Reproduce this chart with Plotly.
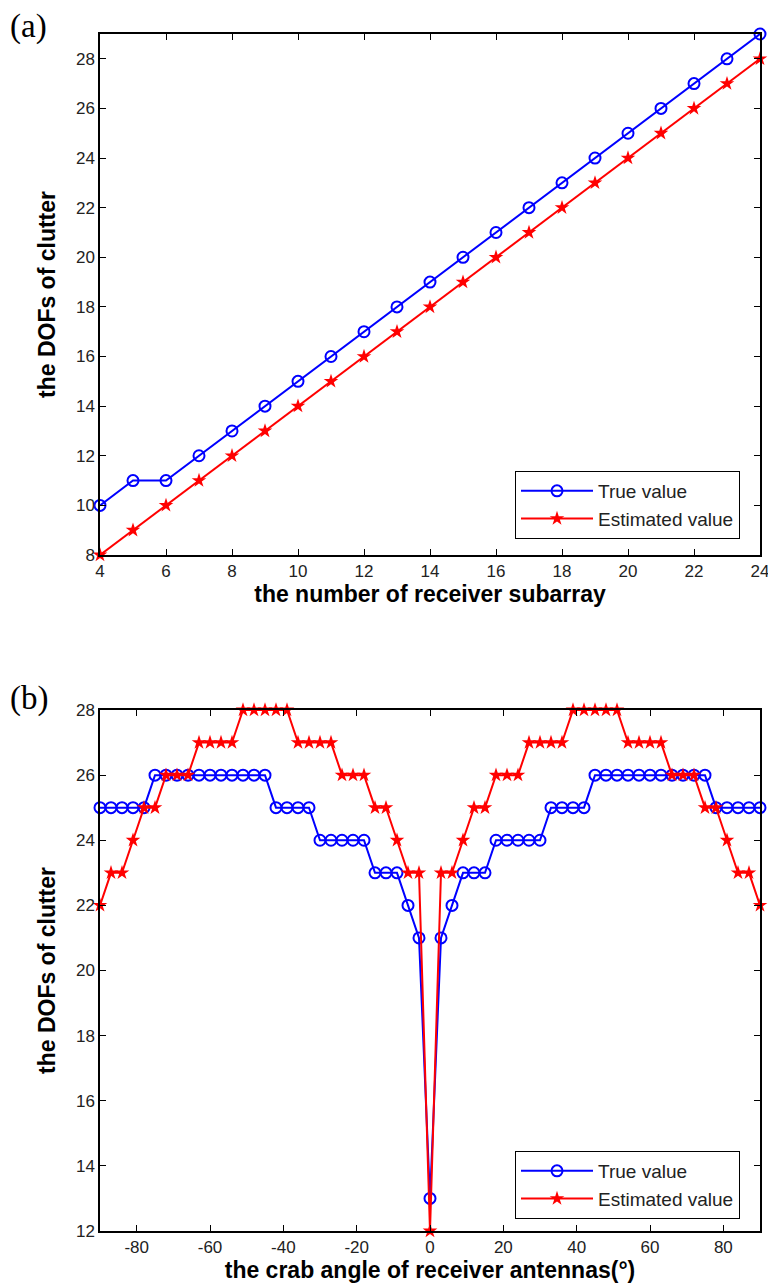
import plotly.graph_objects as go

# Panel (a)
subarray_n = list(range(4, 25))
true_a = [10, 11, 11, 12, 13, 14, 15, 16, 17, 18, 19, 20, 21, 22, 23, 24, 25, 26, 27, 28, 29]
est_a = [8, 9, 10, 11, 12, 13, 14, 15, 16, 17, 18, 19, 20, 21, 22, 23, 24, 25, 26, 27, 28]

# Panel (b)
crab_angle = list(range(-90, 91, 3))
true_b = [25, 25, 25, 25, 25,
          26, 26, 26, 26, 26, 26, 26, 26, 26, 26, 26,
          25, 25, 25, 25,
          24, 24, 24, 24, 24,
          23, 23, 23,
          22, 21, 13, 21, 22,
          23, 23, 23,
          24, 24, 24, 24, 24,
          25, 25, 25, 25,
          26, 26, 26, 26, 26, 26, 26, 26, 26, 26, 26,
          25, 25, 25, 25, 25]
est_b = [22, 23, 23, 24, 25, 25, 26, 26, 26, 27, 27, 27, 27,
         28, 28, 28, 28, 28, 27, 27, 27, 27, 26, 26, 26, 25, 25, 24, 23, 23,
         12,
         23, 23, 24, 25, 25, 26, 26, 26, 27, 27, 27, 27, 28, 28, 28, 28, 28,
         27, 27, 27, 27, 26, 26, 26, 25, 25, 24, 23, 23, 22]

xticks_b = [-80, -60, -40, -20, 0, 20, 40, 60, 80]
xticklabels_b = ["-80", "-60", "-40", "-20", "0", "20", "40", "60", "80"]

BLUE = "#0000ff"
RED = "#ff0000"
FONT = "Liberation Sans, Arial, sans-serif"

fig = go.Figure()

def add_pair(x, yt, ye, xa, ya, lg):
    fig.add_trace(go.Scatter(x=x, y=yt, mode="lines+markers", name="True value",
                             line=dict(color=BLUE, width=2),
                             marker=dict(symbol="circle-open", size=11, color=BLUE, line=dict(width=2)),
                             xaxis=xa, yaxis=ya, legend=lg, cliponaxis=False))
    fig.add_trace(go.Scatter(x=x, y=ye, mode="lines+markers", name="Estimated value",
                             line=dict(color=RED, width=2),
                             marker=dict(symbol="star", size=11, color=RED),
                             xaxis=xa, yaxis=ya, legend=lg, cliponaxis=False))

add_pair(subarray_n, true_a, est_a, "x", "y", "legend")
add_pair(crab_angle, true_b, est_b, "x2", "y2", "legend2")

W, H = 768, 1288
xd = [100 / W, 760 / W]
ya = [1 - 555 / H, 1 - 34 / H]
yb = [1 - 1231 / H, 1 - 710 / H]

axis_common = dict(showline=True, linecolor="black", linewidth=1.5, mirror="ticks",
                   ticks="inside", ticklen=6, tickcolor="black", showgrid=False, zeroline=False,
                   automargin=False, ticklabeloverflow="allow",
                   tickfont=dict(family=FONT, size=17, color="#222"))
title_font = dict(family=FONT, size=23, color="black", weight="bold")

fig.update_layout(
    width=W, height=H, margin=dict(l=0, r=0, t=0, b=0),
    paper_bgcolor="white", plot_bgcolor="white",
    xaxis=dict(domain=xd, anchor="y", range=[4, 24], dtick=2,
               title=dict(text="the number of receiver subarray", font=title_font, standoff=2),
               **axis_common),
    yaxis=dict(domain=ya, anchor="x", range=[8, 29], dtick=2,
               title=dict(text="the DOFs of clutter", font=title_font, standoff=14),
               **axis_common),
    xaxis2=dict(domain=xd, anchor="y2", range=[-90, 90], tickvals=xticks_b, ticktext=xticklabels_b,
                title=dict(text="the crab angle of receiver antennas(°)", font=title_font, standoff=4),
                **axis_common),
    yaxis2=dict(domain=yb, anchor="x2", range=[12, 28], dtick=2,
                title=dict(text="the DOFs of clutter", font=title_font, standoff=14),
                **axis_common),
    legend=dict(x=740 / W, y=1 - 471 / H, xanchor="right", yanchor="top",
                bgcolor="white", bordercolor="black", borderwidth=1, itemwidth=72,
                font=dict(family=FONT, size=19, color="#222"), tracegroupgap=0),
    legend2=dict(x=740 / W, y=1 - 1151 / H, xanchor="right", yanchor="top",
                 bgcolor="white", bordercolor="black", borderwidth=1, itemwidth=72,
                 font=dict(family=FONT, size=19, color="#222"), tracegroupgap=0),
    showlegend=True,
)

fig.add_annotation(text="(a)", x=8 / W, y=1 - 6 / H, xref="paper", yref="paper",
                   xanchor="left", yanchor="top", showarrow=False,
                   font=dict(family="Liberation Serif, Times New Roman, serif", size=33, color="black"))
fig.add_annotation(text="(b)", x=8 / W, y=1 - 678 / H, xref="paper", yref="paper",
                   xanchor="left", yanchor="top", showarrow=False,
                   font=dict(family="Liberation Serif, Times New Roman, serif", size=33, color="black"))

fig.write_html("out.html")
